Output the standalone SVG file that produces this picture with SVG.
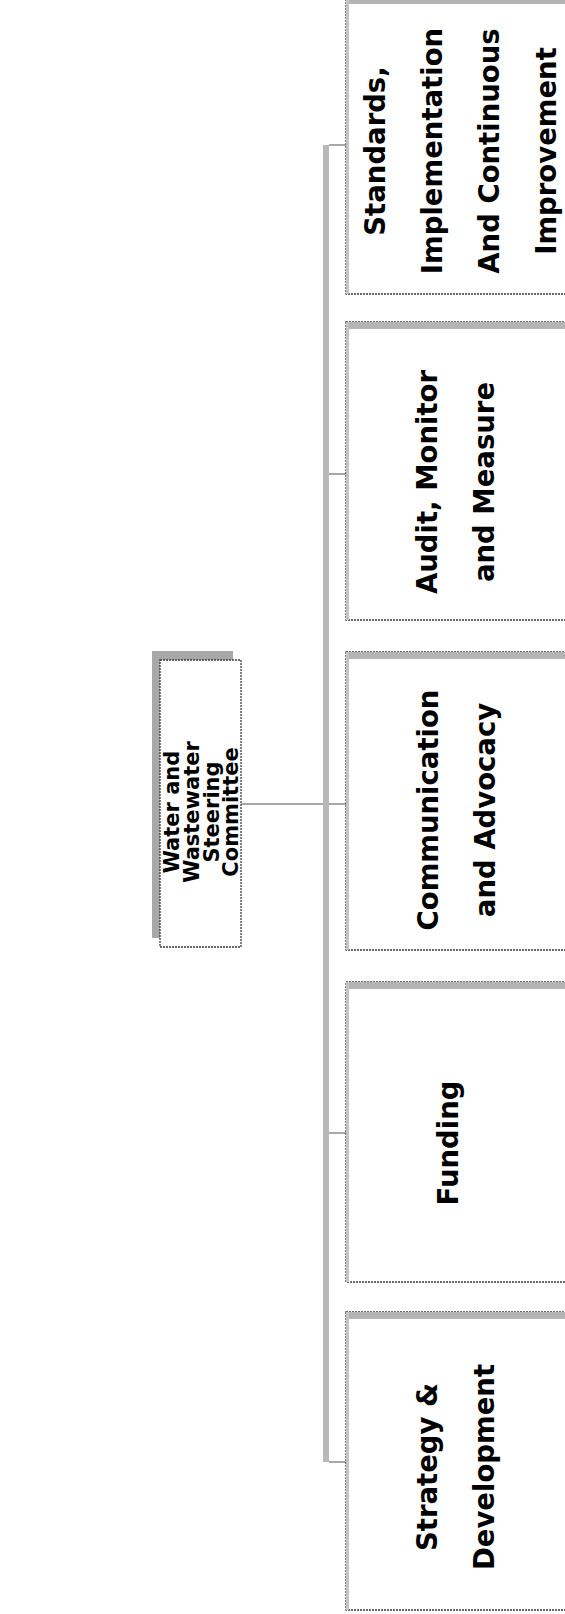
<svg xmlns="http://www.w3.org/2000/svg" width="565" height="1614" viewBox="0 0 565 1614">
<defs>
<style>
.bg{fill:#fff}
.box{fill:#fff;stroke:#3a3a3a;stroke-width:1.3;stroke-dasharray:2 1}
.band{fill:#b4b4b4}
.edge{fill:#c4c4c4}
.shadow{fill:#a8a8a8}
.conn{stroke:#a8a8a8;stroke-width:2;fill:none}
.bus{stroke:#b8b8b8;stroke-width:6;fill:none}
.t{font-family:"DejaVu Sans",Verdana,sans-serif;font-weight:bold;fill:#000;text-anchor:middle}
.c{font-size:27.5px}
.r{font-size:21px}
</style>
</defs>
<rect class="bg" x="0" y="0" width="565" height="1614"/>
<g id="connectors">
<line class="bus" x1="326" y1="145" x2="326" y2="1462"/>
<line class="conn" x1="241" y1="804" x2="323" y2="804"/>
<line class="conn" x1="329" y1="145" x2="346" y2="145"/>
<line class="conn" x1="329" y1="474" x2="346" y2="474"/>
<line class="conn" x1="329" y1="804" x2="346" y2="804"/>
<line class="conn" x1="329" y1="1133" x2="346" y2="1133"/>
<line class="conn" x1="329" y1="1462" x2="346" y2="1462"/>
</g>
<g id="root">
<rect class="shadow" x="152" y="651" width="81" height="287"/>
<rect class="box" x="160" y="660" width="81" height="287"/>
<text class="t r" transform="translate(179,812) rotate(-90)">Water and</text>
<text class="t r" transform="translate(199,812) rotate(-90)">Wastewater</text>
<text class="t r" transform="translate(219,812) rotate(-90)">Steering</text>
<text class="t r" transform="translate(238,812) rotate(-90)">Committee</text>
</g>
<g id="standards">
<rect class="box" x="346" y="-4" width="240" height="298"/>
<rect class="band" x="346" y="-4" width="240" height="8"/>
<rect class="edge" x="346" y="-4" width="3" height="298"/>
<text class="t c" transform="translate(385,151) rotate(-90)">Standards,</text>
<text class="t c" transform="translate(442,151) rotate(-90)">Implementation</text>
<text class="t c" transform="translate(499,151) rotate(-90)">And Continuous</text>
<text class="t c" transform="translate(556,151) rotate(-90)">Improvement</text>
</g>
<g id="audit">
<rect class="box" x="346" y="322" width="240" height="298"/>
<rect class="band" x="346" y="322" width="240" height="7"/>
<rect class="edge" x="346" y="322" width="3" height="298"/>
<text class="t c" transform="translate(437,482) rotate(-90)">Audit, Monitor</text>
<text class="t c" transform="translate(494,482) rotate(-90)">and Measure</text>
</g>
<g id="communication">
<rect class="box" x="346" y="652" width="240" height="298"/>
<rect class="band" x="346" y="652" width="240" height="7"/>
<rect class="edge" x="346" y="652" width="3" height="298"/>
<text class="t c" transform="translate(438,810) rotate(-90)">Communication</text>
<text class="t c" transform="translate(495,810) rotate(-90)">and Advocacy</text>
</g>
<g id="funding">
<rect class="box" x="346" y="982" width="240" height="300"/>
<rect class="band" x="346" y="982" width="240" height="7"/>
<rect class="edge" x="346" y="982" width="3" height="300"/>
<text class="t c" transform="translate(458,1143) rotate(-90)">Funding</text>
</g>
<g id="strategy">
<rect class="box" x="346" y="1312" width="240" height="298"/>
<rect class="band" x="346" y="1312" width="240" height="7"/>
<rect class="edge" x="346" y="1312" width="3" height="298"/>
<text class="t c" transform="translate(437,1467) rotate(-90)">Strategy &amp;</text>
<text class="t c" transform="translate(494,1467) rotate(-90)">Development</text>
</g>
</svg>
